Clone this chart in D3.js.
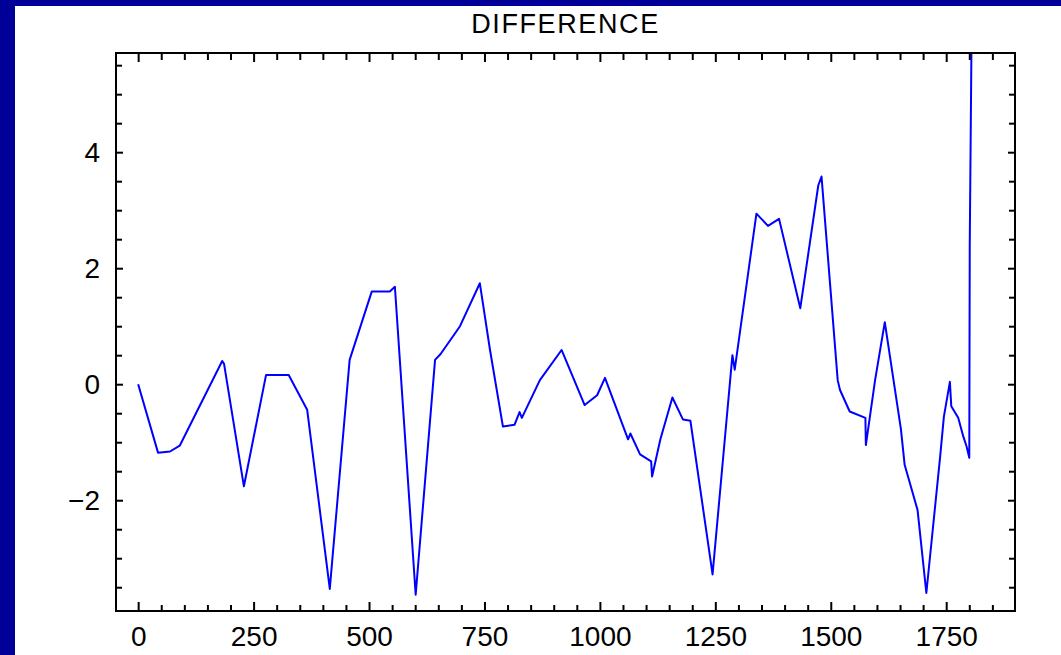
<!DOCTYPE html>
<html>
<head>
<meta charset="utf-8">
<script src="https://cdn.jsdelivr.net/npm/d3@7"></script>
<style>
  body { margin: 0; background: #000099; }
  svg { display: block; }
</style>
</head>
<body>
<svg id="chart"></svg>
<script>
// values
const xValues = [0, 43, 69, 90, 182, 186, 229, 277, 326, 366, 415, 458, 506, 545, 556, 601, 643, 655, 697, 740,
  762, 790, 815, 826, 831, 870, 917, 967, 994, 1011, 1061, 1066, 1087, 1111, 1113, 1131, 1157, 1180, 1196, 1244,
  1287, 1292, 1339, 1364, 1388, 1434, 1473, 1480, 1515, 1520, 1541, 1575, 1576, 1596, 1617, 1652, 1660, 1688, 1707,
  1737, 1745, 1758, 1761, 1776, 1787, 1794, 1800, 1801, 1806];
const diffValues = [0, -1.18, -1.16, -1.06, 0.40, 0.35, -1.76, 0.16, 0.16, -0.44, -3.53, 0.42, 1.6, 1.6, 1.68, -3.63, 0.42, 0.52, 1.0, 1.74,
  0.59, -0.73, -0.70, -0.48, -0.58, 0.07, 0.59, -0.36, -0.19, 0.11, -0.95, -0.85, -1.21, -1.33, -1.59, -0.95, -0.23, -0.61, -0.63, -3.28,
  0.5, 0.25, 2.94, 2.73, 2.85, 1.31, 3.43, 3.58, 0.07, -0.1, -0.47, -0.58, -1.05, 0.07, 1.07, -0.78, -1.39, -2.17, -3.6,
  -1.24, -0.56, 0.04, -0.38, -0.58, -0.9, -1.07, -1.27, 2.42, 7];
const xTickLabels = [0, 250, 500, 750, 1000, 1250, 1500, 1750];
const yTickLabels = [-2, 0, 2, 4];
const chartTitle = "DIFFERENCE";

const w = 1061, h = 655;
const margin = { top: 53, right: 46, bottom: 44, left: 116 };
const font = "'Liberation Sans', Arial, sans-serif";

const svg = d3.select("#chart").attr("width", w).attr("height", h);

svg.append("rect")
  .attr("x", 15).attr("y", 6)
  .attr("width", w - 15).attr("height", h - 6)
  .attr("fill", "#fff");

const xScale = d3.scaleLinear()
  .domain([-48, 1899])
  .range([margin.left, w - margin.right]);

const yScale = d3.scaleLinear()
  .domain([-3.91, 5.71])
  .range([h - margin.bottom, margin.top]);

svg.append("text")
  .attr("x", (margin.left + w - margin.right) / 2)
  .attr("y", 33)
  .attr("text-anchor", "middle")
  .style("font-family", font)
  .style("font-size", "27px")
  .style("letter-spacing", "1.6px")
  .text(chartTitle);

svg.append("clipPath").attr("id", "plotClip")
  .append("rect")
  .attr("x", margin.left).attr("y", margin.top)
  .attr("width", w - margin.right - margin.left)
  .attr("height", h - margin.bottom - margin.top);

const line = d3.line()
  .x(d => xScale(d[0]))
  .y(d => yScale(d[1]));

svg.append("path")
  .datum(xValues.map((v, i) => [v, diffValues[i]]))
  .attr("clip-path", "url(#plotClip)")
  .attr("fill", "none")
  .attr("stroke", "#0000ff")
  .attr("stroke-width", 2)
  .attr("stroke-linejoin", "round")
  .attr("d", line);

const xMinor = d3.range(0, 1900, 50).filter(v => v % 250 !== 0);
const yMinor = d3.range(-3.5, 5.6, 0.5).filter(v => !yTickLabels.includes(v));
const bottomY = h - margin.bottom, rightX = w - margin.right;

const styleAxis = g => g
  .call(g => g.select(".domain").remove())
  .call(g => g.selectAll("line").attr("stroke", "#000").attr("stroke-width", 2))
  .call(g => g.selectAll("text").style("font-family", font).style("font-size", "28px").attr("fill", "#000"));

// bottom
svg.append("g").attr("transform", `translate(0,${bottomY})`)
  .call(d3.axisBottom(xScale).tickValues(xTickLabels).tickFormat(d3.format("d")).tickSize(-9).tickPadding(15))
  .call(styleAxis);
svg.append("g").attr("transform", `translate(0,${bottomY})`)
  .call(d3.axisBottom(xScale).tickValues(xMinor).tickSize(-6).tickFormat(""))
  .call(styleAxis);
// top
svg.append("g").attr("transform", `translate(0,${margin.top})`)
  .call(d3.axisTop(xScale).tickValues(xTickLabels).tickSize(-9).tickFormat(""))
  .call(styleAxis);
svg.append("g").attr("transform", `translate(0,${margin.top})`)
  .call(d3.axisTop(xScale).tickValues(xMinor).tickSize(-7).tickFormat(""))
  .call(styleAxis);
// left
svg.append("g").attr("transform", `translate(${margin.left},0)`)
  .call(d3.axisLeft(yScale).tickValues(yTickLabels).tickSize(-7).tickPadding(16))
  .call(styleAxis);
svg.append("g").attr("transform", `translate(${margin.left},0)`)
  .call(d3.axisLeft(yScale).tickValues(yMinor).tickSize(-6).tickFormat(""))
  .call(styleAxis);
// right
svg.append("g").attr("transform", `translate(${rightX},0)`)
  .call(d3.axisRight(yScale).tickValues(yTickLabels).tickSize(-7).tickFormat(""))
  .call(styleAxis);
svg.append("g").attr("transform", `translate(${rightX},0)`)
  .call(d3.axisRight(yScale).tickValues(yMinor).tickSize(-6).tickFormat(""))
  .call(styleAxis);

svg.append("rect")
  .attr("x", margin.left).attr("y", margin.top)
  .attr("width", rightX - margin.left)
  .attr("height", bottomY - margin.top)
  .attr("fill", "none")
  .attr("stroke", "#000")
  .attr("stroke-width", 2);
</script>
</body>
</html>
